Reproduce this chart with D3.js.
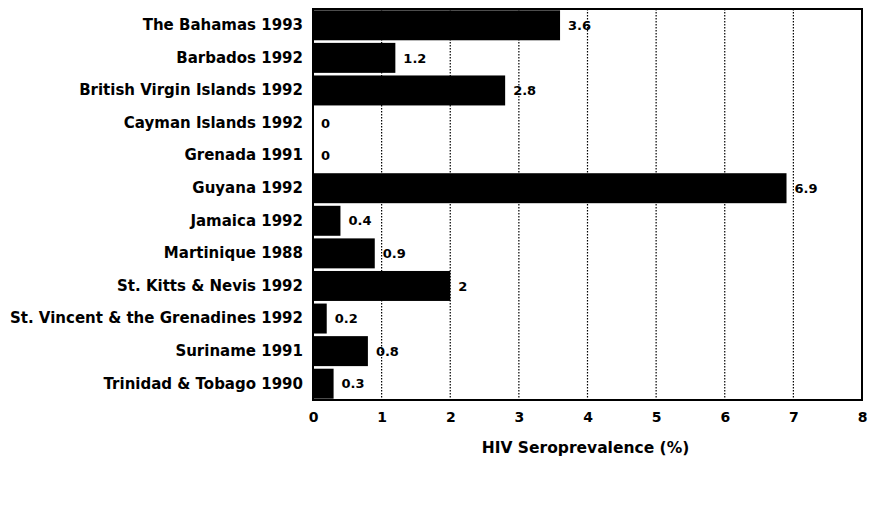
<!DOCTYPE html>
<html><head><meta charset="utf-8">
<script src="https://cdn.jsdelivr.net/npm/d3@7"></script>
<style>
body{margin:0;background:#fff;}
text{font-family:"DejaVu Sans",Arial,sans-serif;font-weight:bold;fill:#000;}
</style></head>
<body><svg id="c" width="871" height="515"></svg>
<script>
const categories = ["The Bahamas 1993","Barbados 1992","British Virgin Islands 1992","Cayman Islands 1992","Grenada 1991","Guyana 1992","Jamaica 1992","Martinique 1988","St. Kitts & Nevis 1992","St. Vincent & the Grenadines 1992","Suriname 1991","Trinidad & Tobago 1990"];
const values = [3.6,1.2,2.8,0,0,6.9,0.4,0.9,2,0.2,0.8,0.3];
const valueLabels = ["3.6","1.2","2.8","0","0","6.9","0.4","0.9","2","0.2","0.8","0.3"];
const xTicks = [0,1,2,3,4,5,6,7,8];
const xTitle = "HIV Seroprevalence (%)";

const FONT = "DejaVu Sans, Arial, sans-serif";
const svg = d3.select("#c");
const m = {l:313, t:9, r:862, b:400};
const x = d3.scaleLinear().domain([0,8]).range([m.l, m.r]);
const y = d3.scaleBand().domain(categories).range([m.t, m.b]).paddingInner(0.08).paddingOuter(0.04);

// gridlines
svg.append("g").selectAll("line").data(xTicks.slice(1,-1)).join("line")
  .attr("x1",d=>x(d)).attr("x2",d=>x(d)).attr("y1",m.t).attr("y2",m.b)
  .attr("stroke","#000").attr("stroke-width",1.2).attr("stroke-dasharray","1.5,1.5");

// bars
svg.append("g").selectAll("rect").data(values).join("rect")
  .attr("x",x(0)).attr("y",(d,i)=>y(categories[i]))
  .attr("width",d=>x(d)-x(0)).attr("height",y.bandwidth()).attr("fill","#000");

// value labels
svg.append("g").selectAll("text").data(values).join("text")
  .attr("x",d=>x(d)+8).attr("y",(d,i)=>y(categories[i])+y.bandwidth()/2)
  .attr("dy","0.36em").attr("font-size",13).text((d,i)=>valueLabels[i]);

// frame
svg.append("rect").attr("x",m.l).attr("y",m.t).attr("width",m.r-m.l).attr("height",m.b-m.t)
  .attr("fill","none").attr("stroke","#000").attr("stroke-width",2);

// y axis
const ya = svg.append("g").attr("transform",`translate(${m.l},0)`).call(d3.axisLeft(y).tickSize(0).tickPadding(10));
ya.select(".domain").remove();
ya.selectAll("text").attr("font-size",15).attr("font-family",FONT).attr("font-weight","bold");

// x axis
const xa = svg.append("g").attr("transform",`translate(0,${m.b})`).call(d3.axisBottom(x).tickValues(xTicks).tickFormat(d3.format("d")).tickSize(0).tickPadding(12));
xa.select(".domain").remove();
xa.selectAll("text").attr("font-size",14).attr("font-family",FONT).attr("font-weight","bold");

svg.append("text").attr("x",(m.l+m.r)/2 - 2).attr("y",453).attr("text-anchor","middle").attr("font-size",15.5).text(xTitle);
</script></body></html>
